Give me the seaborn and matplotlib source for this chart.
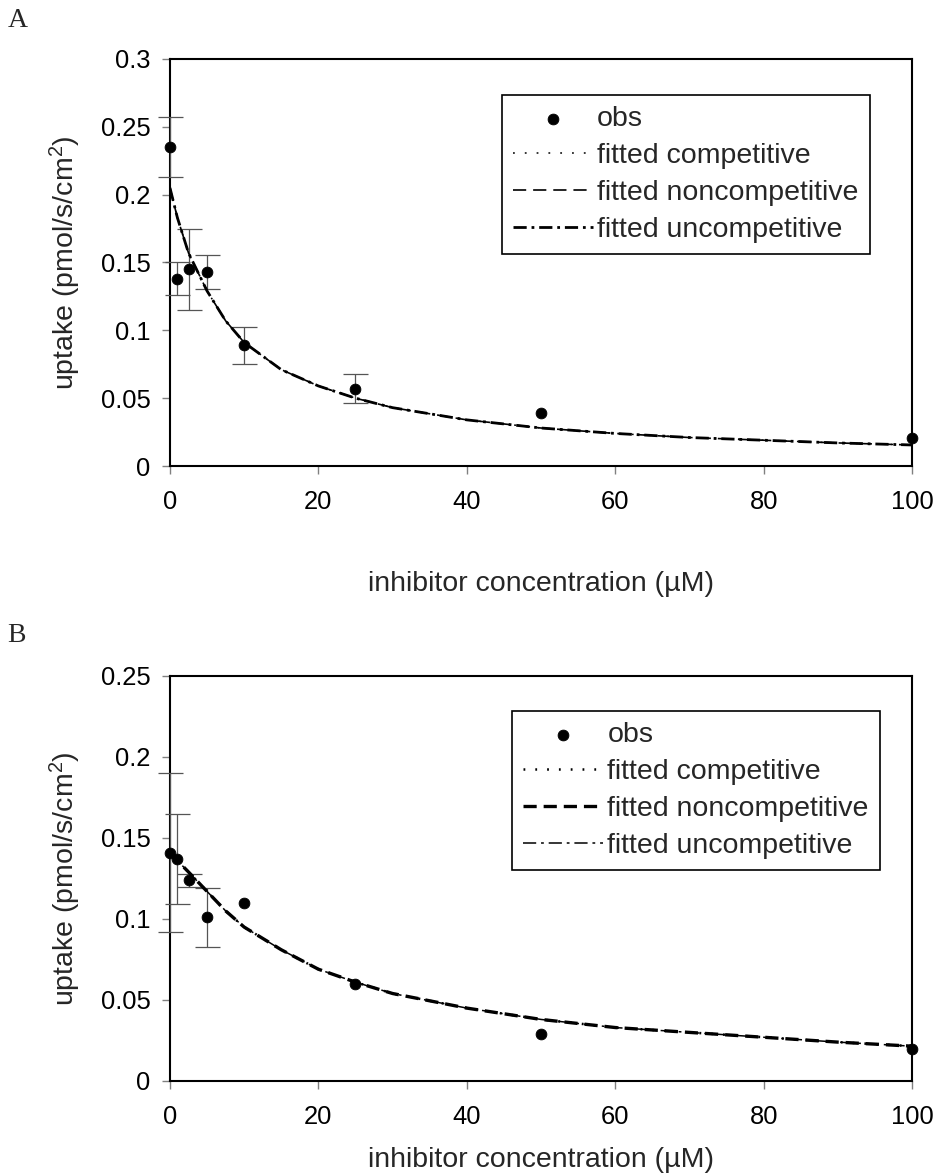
import matplotlib
matplotlib.use("Agg")
import matplotlib.pyplot as plt
import seaborn as sns

# observed uptake, panel A and B
conc = [0, 1, 2.5, 5, 10, 25, 50, 100]
obs_a = [0.235, 0.138, 0.145, 0.143, 0.089, 0.057, 0.039, 0.021]
err_a = [0.022, 0.012, 0.030, 0.0125, 0.0135, 0.0105, 0, 0]
obs_b = [0.141, 0.137, 0.124, 0.101, 0.110, 0.060, 0.029, 0.0198]
err_b = [0.049, 0.028, 0.004, 0.018, 0, 0, 0, 0]

# fitted curves (the three models coincide)
fit_x = [0, 1, 2.5, 5, 7.5, 10, 15, 20, 25, 30, 40, 50, 60, 70, 80, 90, 100]
fit_a_comp = [0.205, 0.183, 0.157, 0.129, 0.107, 0.091, 0.071, 0.059, 0.050,
              0.043, 0.034, 0.028, 0.024, 0.021, 0.019, 0.017, 0.0155]
fit_a_noncomp = list(fit_a_comp)
fit_a_uncomp = list(fit_a_comp)
fit_b_comp = [0.141, 0.136, 0.129, 0.117, 0.105, 0.095, 0.081, 0.069, 0.061,
              0.054, 0.045, 0.038, 0.033, 0.030, 0.027, 0.024, 0.0215]
fit_b_noncomp = list(fit_b_comp)
fit_b_uncomp = list(fit_b_comp)

x_ticks = [0, 20, 40, 60, 80, 100]
y_ticks_a = [0, 0.05, 0.1, 0.15, 0.2, 0.25, 0.3]
y_ticks_b = [0, 0.05, 0.1, 0.15, 0.2, 0.25]
labels = ["fitted competitive", "fitted noncompetitive", "fitted uncompetitive"]

sns.set_style("ticks")
plt.rcParams["font.family"] = ["Liberation Sans", "DejaVu Sans"]
plt.rcParams["mathtext.fontset"] = "custom"
plt.rcParams["mathtext.rm"] = "Liberation Sans"
plt.rcParams["mathtext.it"] = "Liberation Sans:italic"
plt.rcParams["lines.scale_dashes"] = False

fig = plt.figure(figsize=(9.37, 11.75), dpi=100)
axA = fig.add_axes([0.1814, 0.6034, 0.792, 0.3464])
axB = fig.add_axes([0.1814, 0.0800, 0.792, 0.3447])

dot = (0, (1.3, 7.2))
dash = (0, (9.5, 5))
dashdot = (0, (9.5, 3.5, 2, 3.5))

panels = [
    (axA, obs_a, err_a, [fit_a_comp, fit_a_noncomp, fit_a_uncomp],
     [(dot, 1.1), (dash, 1.2), (dashdot, 2.0)], y_ticks_a, (0.943, 0.912), 41),
    (axB, obs_b, err_b, [fit_b_comp, fit_b_noncomp, fit_b_uncomp],
     [(dot, 1.8), (dash, 2.4), (dashdot, 1.1)], y_ticks_b, (0.957, 0.914), 13),
]

for ax, obs, err, fits, styles, yt, anchor, xpad in panels:
    keep = [i for i, e in enumerate(err) if e > 0]
    ax.errorbar([conc[i] for i in keep], [obs[i] for i in keep],
                yerr=[err[i] for i in keep], fmt="none", ecolor="#555555",
                elinewidth=0.9, capsize=9, capthick=0.9, clip_on=False, zorder=3)
    sns.scatterplot(x=conc, y=obs, ax=ax, color="black", s=60, edgecolor="black",
                    label="obs", clip_on=False, zorder=5)
    for fy, (ls, lw), lab in zip(fits, styles, labels):
        sns.lineplot(x=fit_x, y=fy, ax=ax, color="black", linestyle=ls, lw=lw,
                     label=lab, zorder=4)

    ax.set_xlim(0, 100)
    ax.set_ylim(0, yt[-1])
    ax.set_xticks(x_ticks)
    ax.set_xticklabels([str(t) for t in x_ticks])
    ax.set_yticks(yt)
    ax.set_yticklabels([f"{t:g}" for t in yt])
    ax.tick_params(axis="both", direction="out", length=6, width=1,
                   color="#808080", labelsize=18.4, labelcolor="black")
    ax.tick_params(axis="x", pad=11)
    ax.tick_params(axis="y", pad=8)
    for sp in ax.spines.values():
        sp.set_visible(True)
        sp.set_color("black")
        sp.set_linewidth(1.5)
        sp.set_zorder(2)

    ax.set_xlabel("inhibitor concentration (\u00b5M)", fontsize=20.5, labelpad=xpad)
    ax.set_ylabel("uptake (pmol/s/cm$^{2}$)", fontsize=20.5, labelpad=13)

    h, l = ax.get_legend_handles_labels()
    order = [l.index("obs")] + [l.index(t) for t in labels]
    leg = ax.legend([h[i] for i in order], [l[i] for i in order],
                    loc="upper right", bbox_to_anchor=anchor, borderaxespad=0,
                    fontsize=20.5, frameon=True, fancybox=False, framealpha=1,
                    edgecolor="black", handlelength=2.8, handletextpad=0.15,
                    labelspacing=0.38, borderpad=0.4)
    leg.get_frame().set_linewidth(1.2)

fig.text(0.008, 0.977, "A", family=["Liberation Serif", "DejaVu Serif"],
         fontsize=20, va="baseline")
fig.text(0.008, 0.454, "B", family=["Liberation Serif", "DejaVu Serif"],
         fontsize=20, va="baseline")

fig.savefig("out.png", dpi=100)
